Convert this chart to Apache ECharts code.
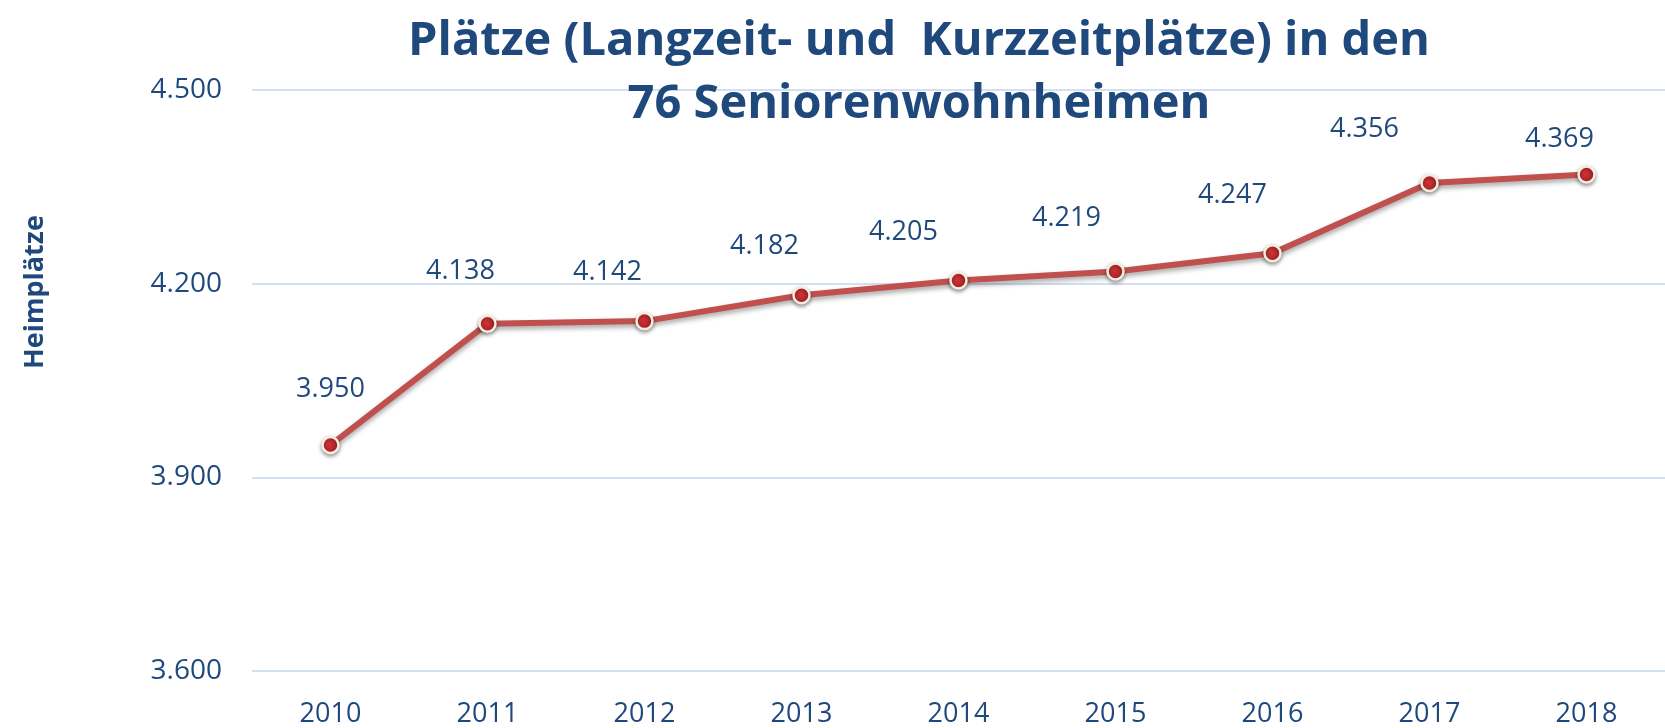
<!DOCTYPE html>
<html>
<head>
    <meta charset="utf-8">
    <title>Heimplätze</title>
    <script src="https://cdn.jsdelivr.net/npm/echarts@6/dist/echarts.min.js"></script>
    <style>
        html, body { margin: 0; padding: 0; background: #fff; }
    </style>
</head>
<body>
    <div id="main" style="width: 1665px;height:728px;"></div>
    <script>
        // Daten
        var years = ['2010', '2011', '2012', '2013', '2014', '2015', '2016', '2017', '2018'];
        var plaetze = [3950, 4138, 4142, 4182, 4205, 4219, 4247, 4356, 4369];

        // Beschriftungen im Original von Hand verschoben
        var labelShift = [[0, -56], [-27, -52], [-37, -49], [-37, -49], [-55, -48],
                          [-49, -53], [-40, -58], [-65, -54], [-27, -35]];

        var blue = '#1F497D';
        var font = 'Open Sans';

        function fmt(v) {
            return String(v).replace(/\B(?=(\d{3})+(?!\d))/g, '.');
        }

        var myChart = echarts.init(document.getElementById('main'));

        var points = plaetze.map(function (v, i) {
            return {
                value: v,
                label: { offset: labelShift[i] }
            };
        });

        var option = {
            animation: false,
            title: {
                text: 'Plätze (Langzeit- und  Kurzzeitplätze) in den\n76 Seniorenwohnheimen',
                left: 914,
                top: 5,
                textAlign: 'center',
                textStyle: {
                    fontFamily: font,
                    fontWeight: 'bold',
                    fontSize: 47,
                    lineHeight: 63,
                    color: blue
                }
            },
            graphic: [{
                type: 'text',
                x: 35,
                y: 292,
                rotation: Math.PI / 2,
                style: {
                    text: 'Heimplätze',
                    fontFamily: font,
                    fontWeight: 'bold',
                    fontSize: 27,
                    fill: blue,
                    align: 'center',
                    verticalAlign: 'middle'
                }
            }],
            grid: {
                left: 252,
                top: 90,
                width: 1423,
                height: 582
            },
            xAxis: {
                type: 'category',
                data: years,
                axisLine: { show: false },
                axisTick: { show: false },
                axisLabel: {
                    margin: 30,
                    fontFamily: font,
                    fontSize: 27,
                    color: blue
                }
            },
            yAxis: {
                type: 'value',
                min: 3600,
                max: 4500,
                interval: 300,
                axisLabel: {
                    margin: 30,
                    fontFamily: font,
                    fontSize: 28,
                    color: blue,
                    formatter: fmt
                },
                splitLine: {
                    lineStyle: { color: '#D3E0F1', width: 2 }
                }
            },
            series: [{
                type: 'line',
                data: points,
                symbol: 'circle',
                symbolSize: 16,
                lineStyle: {
                    color: '#C0504D',
                    width: 6,
                    shadowColor: 'rgba(0,0,0,0.35)',
                    shadowBlur: 5,
                    shadowOffsetY: 3
                },
                itemStyle: {
                    color: new echarts.graphic.RadialGradient(0.4, 0.35, 0.7, [
                        { offset: 0, color: '#D9363A' },
                        { offset: 1, color: '#A51F23' }
                    ]),
                    borderColor: '#F3EEDD',
                    borderWidth: 2.5,
                    shadowColor: 'rgba(0,0,0,0.4)',
                    shadowBlur: 4,
                    shadowOffsetY: 2
                },
                label: {
                    show: true,
                    position: 'inside',
                    fontFamily: font,
                    fontSize: 27,
                    color: blue,
                    formatter: function (p) { return fmt(p.value); }
                }
            }]
        };

        myChart.setOption(option);
    </script>
</body>
</html>
